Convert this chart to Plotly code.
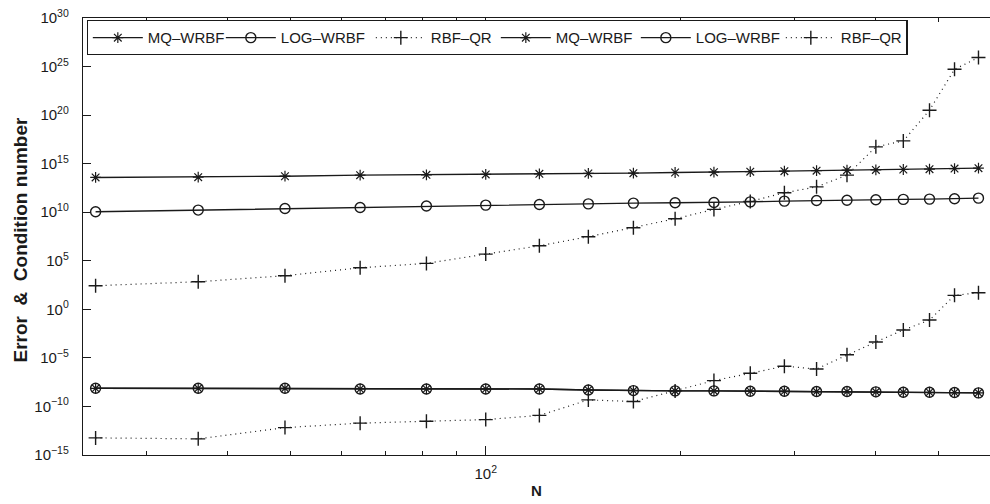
import plotly.graph_objects as go

N = [25, 36, 49, 64, 81, 100, 121, 144, 169, 196, 225, 256, 289, 324, 361, 400, 441, 484, 529, 576]

cond_mq = [3.8e13, 4.1e13, 5.1e13, 6.6e13, 7.1e13, 7.8e13, 8.9e13, 9.8e13, 1.05e14, 1.23e14,
           1.32e14, 1.51e14, 1.70e14, 1.91e14, 2.14e14, 2.29e14, 2.51e14, 2.69e14, 3.09e14, 3.47e14]
cond_log = [1.1e10, 1.66e10, 2.45e10, 3.1e10, 4.3e10, 5.4e10, 6.3e10, 7.2e10, 8.7e10, 9.3e10,
            1.0e11, 1.17e11, 1.38e11, 1.62e11, 1.74e11, 1.9e11, 2.09e11, 2.24e11, 2.4e11, 2.82e11]
cond_qr = [2.7e2, 6.9e2, 2.9e3, 1.9e4, 5.4e4, 4.9e5, 3.5e6, 3.0e7, 2.5e8, 2.1e9,
           1.95e10, 1.3e11, 1.0e12, 4.1e12, 6.6e13, 5.4e16, 2.2e17, 3.2e20, 5.2e24, 8.5e25]
err_mq = [7.4e-9, 7.4e-9, 7.4e-9, 6.3e-9, 6.3e-9, 6.3e-9, 6.3e-9, 5.0e-9, 4.3e-9, 4.0e-9,
          4.0e-9, 3.7e-9, 3.7e-9, 3.4e-9, 3.4e-9, 3.2e-9, 2.9e-9, 2.9e-9, 2.7e-9, 2.5e-9]
err_log = [7.4e-9, 7.4e-9, 7.4e-9, 6.3e-9, 6.3e-9, 6.3e-9, 6.3e-9, 5.0e-9, 4.3e-9, 4.0e-9,
           4.0e-9, 3.7e-9, 3.7e-9, 3.4e-9, 3.4e-9, 3.2e-9, 2.9e-9, 2.9e-9, 2.7e-9, 2.5e-9]
err_qr = [5.8e-14, 4.6e-14, 6.6e-13, 1.9e-12, 3.0e-12, 4.4e-12, 1.2e-11, 4.7e-10, 3.2e-10, 4.0e-9,
          4.6e-8, 2.6e-7, 1.4e-6, 7.2e-7, 2.1e-5, 4.4e-4, 7.4e-3, 7.9e-2, 27.5, 51.0]

names = ["MQ–WRBF", "LOG–WRBF", "RBF–QR", "MQ–WRBF", "LOG–WRBF", "RBF–QR"]
x_major = [100]
x_major_text = ["10<sup>2</sup>"]
x_minor = [30, 40, 50, 60, 70, 80, 90, 200, 300, 400, 500]
y_exps = [-15, -10, -5, 0, 5, 10, 15, 20, 25, 30]
y_tickvals = [10.0 ** e for e in y_exps]
y_ticktext = ["10<sup>%s</sup>" % (("−%d" % -e) if e < 0 else str(e)) for e in y_exps]

INK = "#1a1a1a"
FONT = "Liberation Sans, Arial, Helvetica, sans-serif"

styles = {
    "mq": dict(mode="lines+markers", line=dict(color=INK, width=1.4, dash="solid"),
               marker=dict(symbol="asterisk-open", size=9, line=dict(color=INK, width=1.2))),
    "log": dict(mode="lines+markers", line=dict(color=INK, width=1.4, dash="solid"),
                marker=dict(symbol="circle-open", size=10, color=INK, line=dict(color=INK, width=1.4))),
    "qr": dict(mode="lines+markers", line=dict(color=INK, width=1.2, dash="1px,4px"),
               marker=dict(symbol="cross-thin-open", size=10, line=dict(color=INK, width=1.4))),
}

series = [(cond_mq, "mq"), (cond_log, "log"), (cond_qr, "qr"),
          (err_mq, "mq"), (err_log, "log"), (err_qr, "qr")]
lwidths = [68, 85, 60, 75, 80, 60]

fig = go.Figure()
for (vals, key), name, lw in zip(series, names, lwidths):
    fig.add_trace(go.Scatter(x=N, y=vals, name=name, legendwidth=lw, **styles[key]))

fig.update_layout(
    width=990, height=504,
    margin=dict(l=83, r=0, t=18, b=49),
    paper_bgcolor="white", plot_bgcolor="white",
    font=dict(family=FONT, color=INK, size=14),
    showlegend=True,
    legend=dict(orientation="h", x=0.004, y=0.995, xanchor="left", yanchor="top",
                bordercolor=INK, borderwidth=1.2, bgcolor="white",
                font=dict(size=15, family=FONT, color=INK), itemwidth=50,
                tracegroupgap=0),
)
fig.update_xaxes(
    type="log", range=[1.3785, 2.7782],
    showline=True, linecolor=INK, linewidth=1.4, mirror="ticks",
    ticks="inside", ticklen=9, tickwidth=1, tickcolor=INK,
    tickvals=x_major, ticktext=x_major_text, ticklabelstandoff=5,
    tickfont=dict(size=15, family=FONT, color=INK),
    showgrid=False, zeroline=False,
    minor=dict(tickvals=x_minor, ticks="inside", ticklen=4, tickwidth=1, tickcolor=INK, showgrid=False),
    title=dict(text="<b>N</b>", font=dict(size=15, family=FONT, color=INK), standoff=4),
)
fig.update_yaxes(
    type="log", range=[-15, 30],
    tickvals=y_tickvals, ticktext=y_ticktext,
    showline=True, linecolor=INK, linewidth=1.4, mirror=False,
    ticks="inside", ticklen=8, tickwidth=1, tickcolor=INK,
    ticklabelstandoff=10,
    tickfont=dict(size=15, family=FONT, color=INK),
    showgrid=False, zeroline=False,
)
fig.add_annotation(
    text="<b>Error\u00a0 &amp;\u00a0 Condition number</b>", textangle=-90,
    xref="paper", yref="paper", x=(20.5 - 83) / 907, y=0.492,
    xanchor="center", yanchor="middle", showarrow=False,
    font=dict(size=19, family=FONT, color=INK),
)

fig.write_html("out.html")
